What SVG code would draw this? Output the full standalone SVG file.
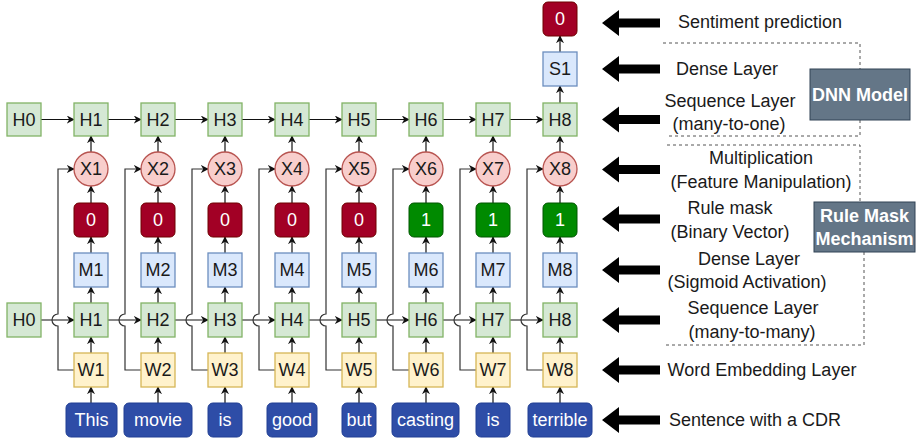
<svg xmlns="http://www.w3.org/2000/svg" width="921" height="440" viewBox="0 0 921 440">
<defs>
<marker id="ah" viewBox="0 0 10 10" refX="9" refY="5" markerWidth="8" markerHeight="8" markerUnits="userSpaceOnUse" orient="auto">
<path d="M0,0 L10,5 L0,10 L3,5 z" fill="#111"/>
</marker>
<style>
text{font-family:"Liberation Sans",Arial,sans-serif;font-size:18px;text-anchor:middle;dominant-baseline:central;fill:#1a1a1a}
.h{fill:#d5e8d4;stroke:#82b366;stroke-width:1.3}
.m{fill:#dae8fc;stroke:#6c8ebf;stroke-width:1.3}
.w{fill:#fff2cc;stroke:#d6b656;stroke-width:1.3}
.x{fill:#f8cecc;stroke:#b85450;stroke-width:1.3}
.z{fill:#a20025;stroke:#6f0000;stroke-width:1}
.o{fill:#008a00;stroke:#005700;stroke-width:1}
.wd{fill:#2e4da7;stroke:#213f94;stroke-width:1}
.g{fill:#647687;stroke:#314354;stroke-width:1}
.wt{fill:#fff}
.b{font-weight:bold;fill:#fff}
#connectors path{fill:none;stroke:#111;stroke-width:1.2;marker-end:url(#ah)}
#connectors path.s{stroke:#333}
.d{fill:none;stroke:#555;stroke-width:1;stroke-dasharray:3 3}
.ba{fill:#000}
</style>
</defs>
<rect width="921" height="440" fill="#fff"/>

<g id="connectors">
<path d="M91,403V387"/><path d="M158,403V387"/><path d="M225,403V387"/><path d="M292,403V387"/><path d="M359,403V387"/><path d="M426,403V387"/><path d="M493,403V387"/><path d="M560,403V387"/>
<path d="M91,353V337"/><path d="M158,353V337"/><path d="M225,353V337"/><path d="M292,353V337"/><path d="M359,353V337"/><path d="M426,353V337"/><path d="M493,353V337"/><path d="M560,353V337"/>
<path d="M91,303V287"/><path d="M158,303V287"/><path d="M225,303V287"/><path d="M292,303V287"/><path d="M359,303V287"/><path d="M426,303V287"/><path d="M493,303V287"/><path d="M560,303V287"/>
<path d="M91,253V237"/><path d="M158,253V237"/><path d="M225,253V237"/><path d="M292,253V237"/><path d="M359,253V237"/><path d="M426,253V237"/><path d="M493,253V237"/><path d="M560,253V237"/>
<path d="M91,203V186"/><path d="M158,203V186"/><path d="M225,203V186"/><path d="M292,203V186"/><path d="M359,203V186"/><path d="M426,203V186"/><path d="M493,203V186"/><path d="M560,203V186"/>
<path d="M91,152V136"/><path d="M158,152V136"/><path d="M225,152V136"/><path d="M292,152V136"/><path d="M359,152V136"/><path d="M426,152V136"/><path d="M493,152V136"/><path d="M560,152V136"/>
<path d="M41,320H74"/><path d="M108,320H141"/><path d="M175,320H208"/><path d="M242,320H275"/><path d="M309,320H342"/><path d="M376,320H409"/><path d="M443,320H476"/><path d="M510,320H543"/>
<path d="M41,119.5H74"/><path d="M108,119.5H141"/><path d="M175,119.5H208"/><path d="M242,119.5H275"/><path d="M309,119.5H342"/><path d="M376,119.5H409"/><path d="M443,119.5H476"/><path d="M510,119.5H543"/>
<path class="s" d="M74,370H58V326A6,6 0 0 1 58,314V169H74"/>
<path class="s" d="M141,370H125V326A6,6 0 0 1 125,314V169H141"/>
<path class="s" d="M208,370H192V326A6,6 0 0 1 192,314V169H208"/>
<path class="s" d="M275,370H259V326A6,6 0 0 1 259,314V169H275"/>
<path class="s" d="M342,370H326V326A6,6 0 0 1 326,314V169H342"/>
<path class="s" d="M409,370H393V326A6,6 0 0 1 393,314V169H409"/>
<path class="s" d="M476,370H460V326A6,6 0 0 1 460,314V169H476"/>
<path class="s" d="M543,370H527V326A6,6 0 0 1 527,314V169H543"/>
<path d="M560,103V86"/><path d="M560,52V36"/>
</g>

<g id="regions">
<path class="d" d="M663,43H860V69M860,120V136H668"/>
<path class="d" d="M667,145H860V202M864,252V345H663"/>
</g>

<g id="upper-h">
<g id="H0u"><rect class="h" x="7" y="103" width="34" height="33"/><text x="24" y="119.5">H0</text></g>
<g id="H1u"><rect class="h" x="74" y="103" width="34" height="33"/><text x="91" y="119.5">H1</text></g>
<g id="H2u"><rect class="h" x="141" y="103" width="34" height="33"/><text x="158" y="119.5">H2</text></g>
<g id="H3u"><rect class="h" x="208" y="103" width="34" height="33"/><text x="225" y="119.5">H3</text></g>
<g id="H4u"><rect class="h" x="275" y="103" width="34" height="33"/><text x="292" y="119.5">H4</text></g>
<g id="H5u"><rect class="h" x="342" y="103" width="34" height="33"/><text x="359" y="119.5">H5</text></g>
<g id="H6u"><rect class="h" x="409" y="103" width="34" height="33"/><text x="426" y="119.5">H6</text></g>
<g id="H7u"><rect class="h" x="476" y="103" width="34" height="33"/><text x="493" y="119.5">H7</text></g>
<g id="H8u"><rect class="h" x="543" y="103" width="34" height="33"/><text x="560" y="119.5">H8</text></g>
</g>

<g id="top">
<g id="S1"><rect class="m" x="543" y="52" width="34" height="34"/><text x="560" y="69">S1</text></g>
<g id="pred"><rect class="z" x="543" y="2" width="34" height="34" rx="5"/><text class="wt" x="560" y="19">0</text></g>
</g>

<g id="xs">
<g id="X1"><circle class="x" cx="91" cy="169" r="17"/><text x="91" y="169">X1</text></g>
<g id="X2"><circle class="x" cx="158" cy="169" r="17"/><text x="158" y="169">X2</text></g>
<g id="X3"><circle class="x" cx="225" cy="169" r="17"/><text x="225" y="169">X3</text></g>
<g id="X4"><circle class="x" cx="292" cy="169" r="17"/><text x="292" y="169">X4</text></g>
<g id="X5"><circle class="x" cx="359" cy="169" r="17"/><text x="359" y="169">X5</text></g>
<g id="X6"><circle class="x" cx="426" cy="169" r="17"/><text x="426" y="169">X6</text></g>
<g id="X7"><circle class="x" cx="493" cy="169" r="17"/><text x="493" y="169">X7</text></g>
<g id="X8"><circle class="x" cx="560" cy="169" r="17"/><text x="560" y="169">X8</text></g>
</g>

<g id="masks">
<g id="R1"><rect class="z" x="74" y="203" width="34" height="34" rx="5"/><text class="wt" x="91" y="220">0</text></g>
<g id="R2"><rect class="z" x="141" y="203" width="34" height="34" rx="5"/><text class="wt" x="158" y="220">0</text></g>
<g id="R3"><rect class="z" x="208" y="203" width="34" height="34" rx="5"/><text class="wt" x="225" y="220">0</text></g>
<g id="R4"><rect class="z" x="275" y="203" width="34" height="34" rx="5"/><text class="wt" x="292" y="220">0</text></g>
<g id="R5"><rect class="z" x="342" y="203" width="34" height="34" rx="5"/><text class="wt" x="359" y="220">0</text></g>
<g id="R6"><rect class="o" x="409" y="203" width="34" height="34" rx="5"/><text class="wt" x="426" y="220">1</text></g>
<g id="R7"><rect class="o" x="476" y="203" width="34" height="34" rx="5"/><text class="wt" x="493" y="220">1</text></g>
<g id="R8"><rect class="o" x="543" y="203" width="34" height="34" rx="5"/><text class="wt" x="560" y="220">1</text></g>
</g>

<g id="ms">
<g id="M1"><rect class="m" x="74" y="253" width="34" height="34"/><text x="91" y="270">M1</text></g>
<g id="M2"><rect class="m" x="141" y="253" width="34" height="34"/><text x="158" y="270">M2</text></g>
<g id="M3"><rect class="m" x="208" y="253" width="34" height="34"/><text x="225" y="270">M3</text></g>
<g id="M4"><rect class="m" x="275" y="253" width="34" height="34"/><text x="292" y="270">M4</text></g>
<g id="M5"><rect class="m" x="342" y="253" width="34" height="34"/><text x="359" y="270">M5</text></g>
<g id="M6"><rect class="m" x="409" y="253" width="34" height="34"/><text x="426" y="270">M6</text></g>
<g id="M7"><rect class="m" x="476" y="253" width="34" height="34"/><text x="493" y="270">M7</text></g>
<g id="M8"><rect class="m" x="543" y="253" width="34" height="34"/><text x="560" y="270">M8</text></g>
</g>

<g id="lower-h">
<g id="H0l"><rect class="h" x="7" y="303" width="34" height="34"/><text x="24" y="320">H0</text></g>
<g id="H1l"><rect class="h" x="74" y="303" width="34" height="34"/><text x="91" y="320">H1</text></g>
<g id="H2l"><rect class="h" x="141" y="303" width="34" height="34"/><text x="158" y="320">H2</text></g>
<g id="H3l"><rect class="h" x="208" y="303" width="34" height="34"/><text x="225" y="320">H3</text></g>
<g id="H4l"><rect class="h" x="275" y="303" width="34" height="34"/><text x="292" y="320">H4</text></g>
<g id="H5l"><rect class="h" x="342" y="303" width="34" height="34"/><text x="359" y="320">H5</text></g>
<g id="H6l"><rect class="h" x="409" y="303" width="34" height="34"/><text x="426" y="320">H6</text></g>
<g id="H7l"><rect class="h" x="476" y="303" width="34" height="34"/><text x="493" y="320">H7</text></g>
<g id="H8l"><rect class="h" x="543" y="303" width="34" height="34"/><text x="560" y="320">H8</text></g>
</g>

<g id="ws">
<g id="W1"><rect class="w" x="74" y="353" width="34" height="34"/><text x="91" y="370">W1</text></g>
<g id="W2"><rect class="w" x="141" y="353" width="34" height="34"/><text x="158" y="370">W2</text></g>
<g id="W3"><rect class="w" x="208" y="353" width="34" height="34"/><text x="225" y="370">W3</text></g>
<g id="W4"><rect class="w" x="275" y="353" width="34" height="34"/><text x="292" y="370">W4</text></g>
<g id="W5"><rect class="w" x="342" y="353" width="34" height="34"/><text x="359" y="370">W5</text></g>
<g id="W6"><rect class="w" x="409" y="353" width="34" height="34"/><text x="426" y="370">W6</text></g>
<g id="W7"><rect class="w" x="476" y="353" width="34" height="34"/><text x="493" y="370">W7</text></g>
<g id="W8"><rect class="w" x="543" y="353" width="34" height="34"/><text x="560" y="370">W8</text></g>
</g>

<g id="words">
<g id="w1"><rect class="wd" x="66" y="403" width="51" height="34" rx="5"/><text class="wt" x="91.5" y="420">This</text></g>
<g id="w2"><rect class="wd" x="124" y="403" width="68" height="34" rx="5"/><text class="wt" x="158" y="420">movie</text></g>
<g id="w3"><rect class="wd" x="208" y="403" width="34" height="34" rx="5"/><text class="wt" x="225" y="420">is</text></g>
<g id="w4"><rect class="wd" x="267" y="403" width="50" height="34" rx="5"/><text class="wt" x="292" y="420">good</text></g>
<g id="w5"><rect class="wd" x="342" y="403" width="34" height="34" rx="5"/><text class="wt" x="359" y="420">but</text></g>
<g id="w6"><rect class="wd" x="392" y="403" width="67" height="34" rx="5"/><text class="wt" x="425.5" y="420">casting</text></g>
<g id="w7"><rect class="wd" x="476" y="403" width="34" height="34" rx="5"/><text class="wt" x="493" y="420">is</text></g>
<g id="w8"><rect class="wd" x="528" y="403" width="64" height="34" rx="5"/><text class="wt" x="560" y="420">terrible</text></g>
</g>

<g id="legend-arrows">
<polygon class="ba" points="602,23 619,10 619,18.5 660,18.5 660,27.5 619,27.5 619,36"/>
<polygon class="ba" points="602,69 619,56 619,64.5 660,64.5 660,73.5 619,73.5 619,82"/>
<polygon class="ba" points="602,119.5 619,106.5 619,115 660,115 660,124 619,124 619,132.5"/>
<polygon class="ba" points="602,169.5 619,156.5 619,165 660,165 660,174 619,174 619,182.5"/>
<polygon class="ba" points="602,219 619,206 619,214.5 660,214.5 660,223.5 619,223.5 619,232"/>
<polygon class="ba" points="602,270 619,257 619,265.5 660,265.5 660,274.5 619,274.5 619,283"/>
<polygon class="ba" points="602,320 619,307 619,315.5 660,315.5 660,324.5 619,324.5 619,333"/>
<polygon class="ba" points="602,370 619,357 619,365.5 660,365.5 660,374.5 619,374.5 619,383"/>
<polygon class="ba" points="602,420 619,407 619,415.5 660,415.5 660,424.5 619,424.5 619,433"/>
</g>

<g id="legend-text">
<text x="760" y="22">Sentiment prediction</text>
<text x="727" y="69">Dense Layer</text>
<text x="730" y="101">Sequence Layer</text>
<text x="729" y="124">(many-to-one)</text>
<text x="761" y="158">Multiplication</text>
<text x="761" y="182">(Feature Manipulation)</text>
<text x="730" y="208">Rule mask</text>
<text x="730" y="232">(Binary Vector)</text>
<text x="749" y="259">Dense Layer</text>
<text x="747" y="282">(Sigmoid Activation)</text>
<text x="753" y="308">Sequence Layer</text>
<text x="752" y="332">(many-to-many)</text>
<text x="762" y="370">Word Embedding Layer</text>
<text x="755" y="420">Sentence with a CDR</text>
</g>

<g id="DNN">
<rect class="g" x="810" y="69" width="100" height="51"/>
<text class="b" x="860" y="94.5">DNN Model</text>
</g>
<g id="RMM">
<rect class="g" x="814" y="202" width="101" height="50"/>
<text class="b" x="864.5" y="216">Rule Mask</text>
<text class="b" x="864.5" y="239">Mechanism</text>
</g>
</svg>
